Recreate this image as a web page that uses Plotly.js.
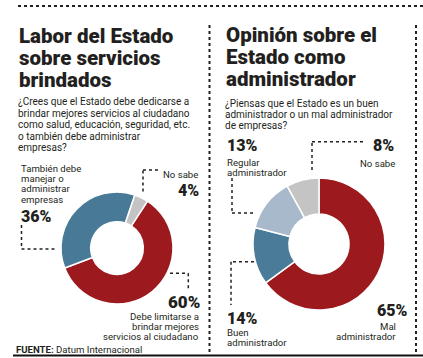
<!DOCTYPE html>
<html>
<head>
<meta charset="utf-8">
<script src="https://cdn.plot.ly/plotly-3.0.1.min.js"></script>
<style>html,body{margin:0;padding:0;background:#fff;}#chart{width:423px;height:358px;}</style>
</head>
<body>
<div id="chart"></div>
<script>
// ---- data ----
const leftLabels = ['Debe limitarse a brindar mejores servicios al ciudadano', 'También debe manejar o administrar empresas', 'No sabe'];
const leftValues = [60, 36, 4];
const leftColors = ['#9c1a1e', '#487a97', '#c4c4c4'];
const rightLabels = ['Mal administrador', 'Buen administrador', 'Regular administrador', 'No sabe'];
const rightValues = [65, 14, 13, 8];
const rightColors = ['#9c1a1e', '#4a7b98', '#a7b9ca', '#c4c4c4'];
const leftTitle = ['Labor del Estado', 'sobre servicios', 'brindados'];
const leftQuestion = ['¿Crees que el Estado debe dedicarse a', 'brindar mejores servicios al ciudadano', 'como salud, educación, seguridad, etc.', 'o también debe administrar', 'empresas?'];
const rightTitle = ['Opinión sobre el', 'Estado como', 'administrador'];
const rightQuestion = ['¿Piensas que el Estado es un buen', 'administrador o un mal administrador', 'de empresas?'];
const leftLabelLines = [['También debe', 'manejar o', 'administrar', 'empresas'], ['No sabe'], ['Debe limitarse a', 'brindar mejores', 'servicios al ciudadano']];
const rightLabelLines = [['Mal', 'administrador'], ['Buen', 'administrador'], ['Regular', 'administrador'], ['No sabe']];
const source = ['FUENTE:', 'Datum Internacional'];

const W = 423, H = 358;
const fx = x => x / W;
const fy = y => 1 - y / H;
const FONT = 'Roboto, Arial, sans-serif';
const DARK = '#231f20';
const annotations = [];
function txt(x, base, text, size, weight, anchor) {
  annotations.push({
    xref: 'paper', yref: 'paper', x: fx(x), y: fy(base - 0.345 * size),
    xanchor: anchor || 'left', yanchor: 'middle', showarrow: false,
    borderwidth: 0, borderpad: 0, text: text,
    font: {family: FONT, size: size, color: DARK, weight: weight || 400}
  });
}
const pct = v => v + '%';
const LBL = 9.6, PCT = 16;

// titles
leftTitle.forEach((t, i) => txt(19, 43 + i * 22, t, 20.5, 900));
rightTitle.forEach((t, i) => txt(226, 42 + i * 22, t, 20.5, 900));
// questions
leftQuestion.forEach((t, i) => txt(18, 105 + i * 11.6, t, 10, 400));
rightQuestion.forEach((t, i) => txt(225, 106.5 + i * 11.3, t, 10, 400));

// left labels
leftLabelLines[0].forEach((t, i) => txt(21, 171.5 + i * 10.3, t, LBL));
txt(21, 222.5, pct(leftValues[1]), PCT, 900);
leftLabelLines[1].forEach((t, i) => txt(198, 177.5, t, LBL, 400, 'right'));
txt(199, 196.5, pct(leftValues[2]), PCT, 900, 'right');
txt(200, 307.5, pct(leftValues[0]), 17, 900, 'right');
leftLabelLines[2].forEach((t, i) => txt(199, 319.5 + i * 10.3, t, LBL, 400, 'right'));

// right labels
txt(227, 151.5, pct(rightValues[2]), PCT, 900);
rightLabelLines[2].forEach((t, i) => txt(227, 165.5 + i * 10.3, t, LBL));
txt(394, 151.5, pct(rightValues[3]), PCT, 900, 'right');
rightLabelLines[3].forEach((t, i) => txt(395, 166.7, t, LBL, 400, 'right'));
txt(408, 316, pct(rightValues[0]), PCT, 900, 'right');
rightLabelLines[0].forEach((t, i) => txt(396, 330 + i * 10.3, t, LBL, 400, 'right'));
txt(227, 324.5, pct(rightValues[1]), PCT, 900);
rightLabelLines[1].forEach((t, i) => txt(227, 336 + i * 10.3, t, LBL));

// source
txt(16, 352.5, '<b>' + source[0] + '</b> ' + source[1], 9.6, 400);

// shapes
const shapes = [];
function seg(pts, dash, w, color) {
  for (let i = 0; i < pts.length - 1; i++) {
    shapes.push({type: 'line', xref: 'paper', yref: 'paper',
      x0: fx(pts[i][0]), y0: fy(pts[i][1]), x1: fx(pts[i + 1][0]), y1: fy(pts[i + 1][1]),
      line: {color: color || DARK, width: w || 1.5, dash: dash || 'dot'}});
  }
}
seg([[18, 6], [423, 6]], 'dot', 2);
seg([[209.5, 25], [209.5, 352]], 'dot', 2);
seg([[416, 25], [416, 352]], 'dot', 2);
seg([[13, 355.5], [423, 355.5]], 'solid', 2, '#111');
// connectors left
seg([[21.5, 225], [21.5, 249], [55, 249]]);
seg([[143, 191.5], [143, 170], [159, 170]]);
seg([[170, 273.3], [188.3, 273.3], [188.3, 290]]);
// connectors right
seg([[232, 178], [232, 213], [255, 213]]);
seg([[312, 170], [312, 141.7], [365, 141.7]]);
seg([[254, 261.7], [231, 261.7], [231, 305]]);

// donuts
const lc = [117, 248], lr = 56;
const rc = [319, 244], rr = 66;
const data = [
  {type: 'pie', labels: leftLabels, values: leftValues, sort: false, direction: 'clockwise', rotation: 33,
   hole: 0.47, textinfo: 'none', hoverinfo: 'none', showlegend: false,
   marker: {colors: leftColors, line: {color: '#ffffff', width: 1.5}},
   domain: {x: [fx(lc[0] - lr), fx(lc[0] + lr)], y: [fy(lc[1] + lr), fy(lc[1] - lr)]}},
  {type: 'pie', labels: rightLabels, values: rightValues, sort: false, direction: 'clockwise', rotation: 0,
   hole: 0.455, textinfo: 'none', hoverinfo: 'none', showlegend: false,
   marker: {colors: rightColors, line: {color: '#ffffff', width: 1.5}},
   domain: {x: [fx(rc[0] - rr), fx(rc[0] + rr)], y: [fy(rc[1] + rr), fy(rc[1] - rr)]}}
];
const layout = {width: W, height: H, margin: {l: 0, r: 0, t: 0, b: 0},
  paper_bgcolor: '#ffffff', plot_bgcolor: '#ffffff', showlegend: false,
  annotations: annotations, shapes: shapes};
Plotly.newPlot('chart', data, layout, {displayModeBar: false, staticPlot: true});
</script>
</body>
</html>
